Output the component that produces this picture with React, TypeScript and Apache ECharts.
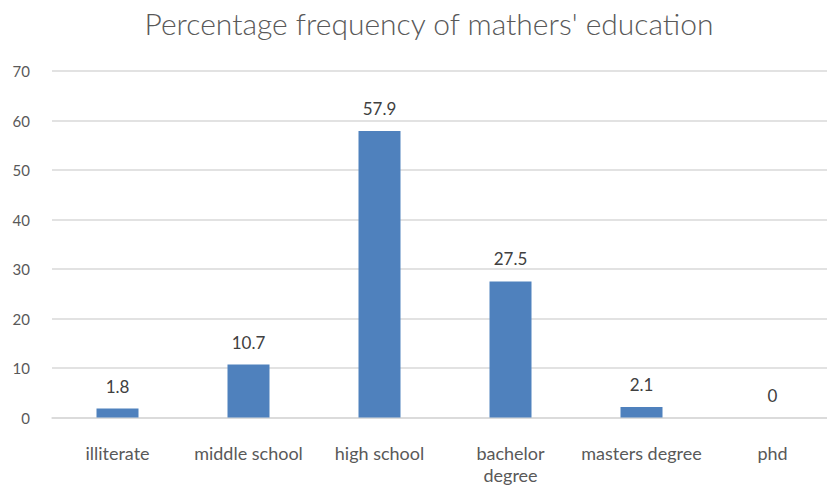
import React, { useEffect, useRef } from "react";
import * as echarts from "echarts";

const categories = ["illiterate", "middle school", "high school", "bachelor\ndegree", "masters degree", "phd"];
const values = [1.8, 10.7, 57.9, 27.5, 2.1, 0];
const yTicks = [0, 10, 20, 30, 40, 50, 60, 70];

const FONT = "Lato, 'Open Sans', sans-serif";

export default function App() {
  const ref = useRef<HTMLDivElement>(null);
  useEffect(() => {
    document.body.style.margin = "0";
    if (!ref.current) return;
    const chart = echarts.init(ref.current, undefined, { renderer: "svg" });
    chart.setOption({
      animation: false,
      backgroundColor: "#ffffff",
      title: {
        text: "Percentage frequency of mathers' education",
        left: 424,
        textAlign: "center",
        top: 3,
        textStyle: { fontFamily: FONT, fontSize: 30, fontWeight: 300, color: "#595959" },
      },
      grid: { left: 52, top: 71, width: 786, height: 346.5, containLabel: false, outerBoundsMode: "none" },
      xAxis: {
        type: "category",
        data: categories,
        axisLine: { show: true, lineStyle: { color: "#d9d9d9", width: 1.5 } },
        axisTick: { show: false },
        axisLabel: { fontFamily: FONT, fontSize: 18, color: "#595959", margin: 24, lineHeight: 22, interval: 0 },
      },
      yAxis: {
        type: "value",
        min: yTicks[0],
        max: yTicks[yTicks.length - 1],
        interval: 10,
        axisLine: { show: false },
        axisTick: { show: false },
        axisLabel: { fontFamily: FONT, fontSize: 15, color: "#595959", margin: 22 },
        splitLine: { lineStyle: { color: "#d9d9d9", width: 1.5 } },
      },
      series: [
        {
          type: "bar",
          data: values,
          barWidth: 42,
          itemStyle: { color: "#4f81bd" },
          label: {
            show: true,
            position: "top",
            distance: 14,
            fontFamily: FONT,
            fontSize: 17,
            color: "#404040",
          },
        },
      ],
    });
    return () => chart.dispose();
  }, []);
  return <div ref={ref} style={{ width: 827, height: 485 }} />;
}
